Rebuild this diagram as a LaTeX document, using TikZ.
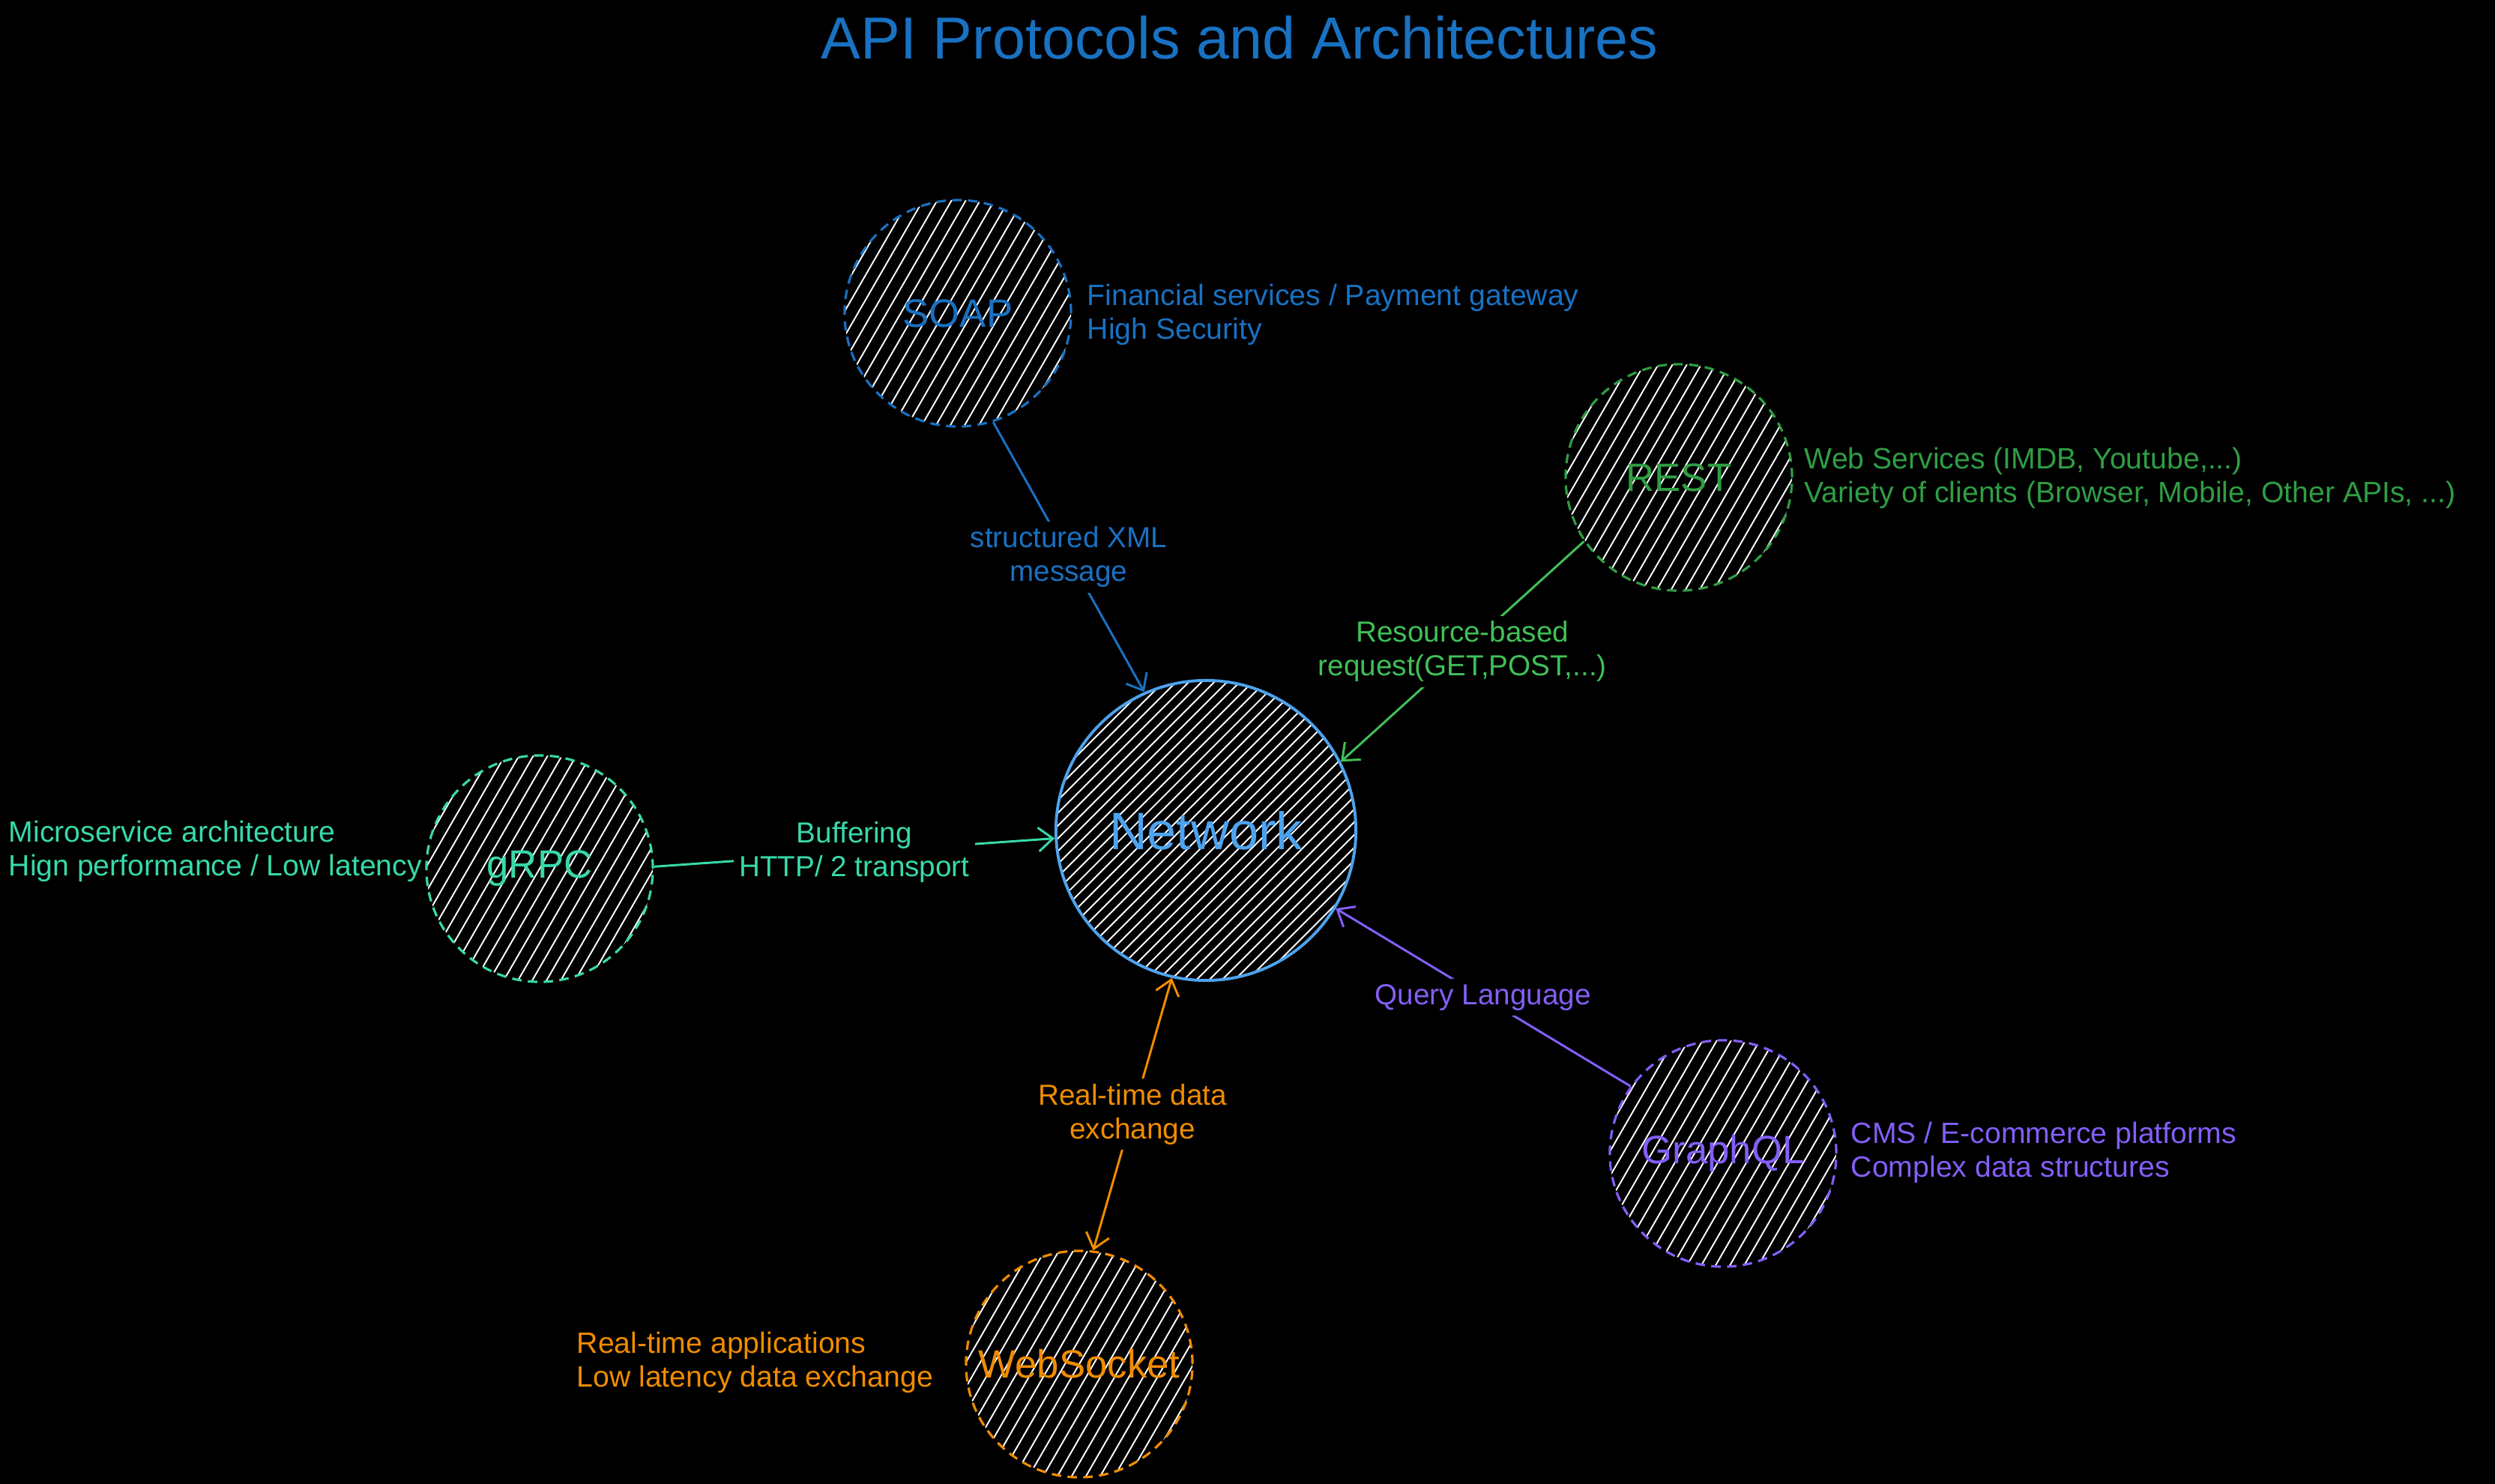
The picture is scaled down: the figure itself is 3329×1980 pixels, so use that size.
\documentclass[tikz,border=0pt]{standalone}
\usepackage{fontspec}
\setmainfont{Liberation Sans}
\usetikzlibrary{arrows.meta}
\definecolor{soapblue}{HTML}{1971C2}
\definecolor{netblue}{HTML}{4DA3EE}
\definecolor{restgreen}{HTML}{2F9E44}
\definecolor{restline}{HTML}{40C057}
\definecolor{grpcteal}{HTML}{38D9A9}
\definecolor{gqlpurple}{HTML}{845EF7}
\definecolor{wsorange}{HTML}{F08C00}
\newcommand\myhatch[5]{%
  \begin{scope}
    \clip (#1) circle[radius=#2];
    \begin{scope}[shift={(#1)}, rotate=#3]
      \foreach \k in {-#5,...,#5} \draw[hatchline] (-#2,\k*#4) -- (#2,\k*#4);
    \end{scope}
  \end{scope}}
\tikzset{
  hatchline/.style={white, solid, line width=0.55pt},
  proto/.style={circle, draw=#1, text=#1, line width=0.9pt,
    dash pattern=on 3.6pt off 2.4pt, minimum size=3.02cm, inner sep=0pt,
    font=\fontsize{15}{18}\selectfont},
  netnode/.style={circle, draw=netblue, text=netblue, line width=1.1pt,
    minimum size=4cm, inner sep=0pt, font=\fontsize{20}{24}\selectfont},
  desc/.style={align=left, anchor=west, inner sep=0pt, font=\fontsize{11.15}{12.8}\selectfont},
  lab/.style={fill=black, inner sep=2pt, align=center, font=\fontsize{11}{12.8}\selectfont},
  conn/.style={line width=0.85pt, draw=#1, text=#1},
  tip/.tip={Straight Barb[length=5.5pt,width=9pt]},
}
\begin{document}
\begin{tikzpicture}[x=0.01cm, y=-0.01cm]
\fill[black] (0,0) rectangle (3329,1980);
\useasboundingbox (0,0) rectangle (3329,1980);

\node[text=soapblue, font=\fontsize{22.5}{27}\selectfont] (title) at (1654,50) {API Protocols and Architectures};

\coordinate (netc) at (1609,1108);
\coordinate (soapc) at (1278,418);
\coordinate (restc) at (2240,637);
\coordinate (grpcc) at (720,1159);
\coordinate (gqlc) at (2299,1539);
\coordinate (wsc) at (1440,1820);

\myhatch{netc}{2cm}{45}{0.12cm}{17}
\myhatch{soapc}{1.51cm}{60}{0.165cm}{10}
\myhatch{restc}{1.51cm}{60}{0.165cm}{10}
\myhatch{grpcc}{1.51cm}{60}{0.165cm}{10}
\myhatch{gqlc}{1.51cm}{60}{0.165cm}{10}
\myhatch{wsc}{1.51cm}{60}{0.165cm}{10}

\node[netnode] (net) at (netc) {Network};
\node[proto=soapblue] (soap) at (soapc) {SOAP};
\node[proto=restgreen] (rest) at (restc) {REST};
\node[proto=grpcteal] (grpc) at (grpcc) {gRPC};
\node[proto=gqlpurple] (gql) at (gqlc) {GraphQL};
\node[proto=wsorange] (ws) at (wsc) {WebSocket};

\node[desc, text=soapblue] (soapd) at (1450,420) {Financial services / Payment gateway\\High Security};
\node[desc, text=restgreen] (restd) at (2407,638) {Web Services (IMDB, Youtube,...)\\Variety of clients (Browser, Mobile, Other APIs, ...)};
\node[desc, text=grpcteal] (grpcd) at (11,1136) {Microservice architecture\\Hign performance / Low latency};
\node[desc, text=gqlpurple] (gqld) at (2469,1538) {CMS / E-commerce platforms\\Complex data structures};
\node[desc, text=wsorange] (wsd) at (769,1818) {Real-time applications\\Low latency data exchange};

\draw[conn=soapblue, -tip] (soap.-72) -- node[lab] {structured XML\\message} (net.114);
\draw[conn=restline, -tip] (rest.214) -- node[lab] {Resource-based\\request(GET,POST,...)} (net.27);
\draw[conn=grpcteal, -tip] (grpc.1) -- node[lab] {Buffering\\HTTP/ 2 transport} (net.183);
\draw[conn=gqlpurple, -tip] (gql.144) -- node[lab] {Query Language} (net.-31);
\draw[conn=wsorange, tip-tip] (ws.83) -- node[lab] {Real-time data\\exchange} (net.257);
\end{tikzpicture}
\end{document}
